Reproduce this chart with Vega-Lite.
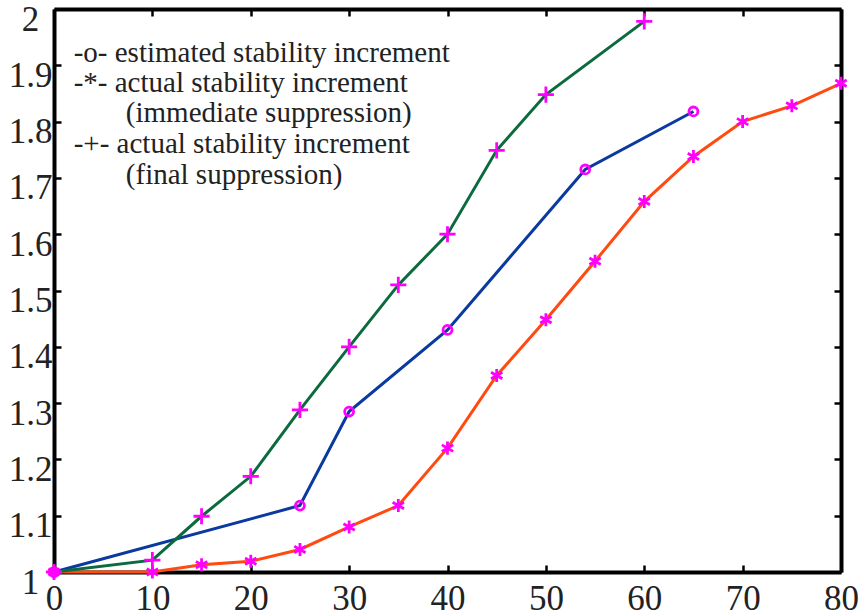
{
  "$schema": "https://vega.github.io/schema/vega-lite/v6.json",
  "width": 787,
  "height": 563,
  "autosize": {"type": "none"},
  "padding": {"left": 54, "top": 9, "right": 26, "bottom": 44},
  "background": "white",
  "config": {
    "view": {"stroke": null},
    "font": "Liberation Serif"
  },
  "datasets": {
    "series": [
      {"series": "est", "x": 0, "y": 1.0},
      {"series": "est", "x": 25, "y": 1.118},
      {"series": "est", "x": 30, "y": 1.285},
      {"series": "est", "x": 40, "y": 1.43},
      {"series": "est", "x": 54, "y": 1.715},
      {"series": "est", "x": 65, "y": 1.818},
      {"series": "imm", "x": 0, "y": 1.0},
      {"series": "imm", "x": 10, "y": 1.0},
      {"series": "imm", "x": 15, "y": 1.013},
      {"series": "imm", "x": 20, "y": 1.019},
      {"series": "imm", "x": 25, "y": 1.04},
      {"series": "imm", "x": 30, "y": 1.08},
      {"series": "imm", "x": 35, "y": 1.118},
      {"series": "imm", "x": 40, "y": 1.22},
      {"series": "imm", "x": 45, "y": 1.349},
      {"series": "imm", "x": 50, "y": 1.448},
      {"series": "imm", "x": 55, "y": 1.552},
      {"series": "imm", "x": 60, "y": 1.658},
      {"series": "imm", "x": 65, "y": 1.738},
      {"series": "imm", "x": 70, "y": 1.8},
      {"series": "imm", "x": 75, "y": 1.828},
      {"series": "imm", "x": 80, "y": 1.868},
      {"series": "fin", "x": 0, "y": 1.0},
      {"series": "fin", "x": 10, "y": 1.021},
      {"series": "fin", "x": 15, "y": 1.099},
      {"series": "fin", "x": 20, "y": 1.17},
      {"series": "fin", "x": 25, "y": 1.288},
      {"series": "fin", "x": 30, "y": 1.40},
      {"series": "fin", "x": 35, "y": 1.51},
      {"series": "fin", "x": 40, "y": 1.60},
      {"series": "fin", "x": 45, "y": 1.749},
      {"series": "fin", "x": 50, "y": 1.848},
      {"series": "fin", "x": 60, "y": 1.978}
    ],
    "legend": [
      {"x": 2.0, "y": 1.921, "t": "-o- estimated stability increment"},
      {"x": 2.0, "y": 1.868, "t": "-*- actual stability increment"},
      {"x": 7.3, "y": 1.816, "t": "(immediate suppression)"},
      {"x": 2.0, "y": 1.761, "t": "-+- actual stability increment"},
      {"x": 7.3, "y": 1.705, "t": "(final suppression)"}
    ]
  },
  "resolve": {"axis": {"x": "independent", "y": "independent"}},
  "layer": [
    {
      "data": {"name": "series"},
      "mark": {"type": "line", "strokeWidth": 3, "clip": false},
      "encoding": {
        "x": {
          "field": "x", "type": "quantitative",
          "scale": {"domain": [0, 80], "nice": false, "zero": false},
          "axis": {"orient": "bottom", "values": [0, 10, 20, 30, 40, 50, 60, 70, 80], "title": null, "labelPadding": 16, "labelFlush": false, "labelFont": "Liberation Serif", "labelFontSize": 35, "labelColor": "#222", "domainWidth": 4, "domainColor": "#000", "tickSize": -7, "tickWidth": 2.5, "tickColor": "#000", "grid": false}
        },
        "y": {
          "field": "y", "type": "quantitative",
          "scale": {"domain": [1, 2], "nice": false, "zero": false},
          "axis": {"orient": "left", "values": [1, 1.1, 1.2, 1.3, 1.4, 1.5, 1.6, 1.7, 1.8, 1.9, 2], "format": ".2~f", "title": null, "labelAlign": "center", "labelPadding": 31, "labelOffset": 10, "labelFlush": false, "labelFont": "Liberation Serif", "labelFontSize": 35, "labelColor": "#222", "domainWidth": 4, "domainColor": "#000", "tickSize": -7, "tickWidth": 2.5, "tickColor": "#000", "grid": false}
        },
        "color": {
          "field": "series", "type": "nominal",
          "scale": {"domain": ["est", "imm", "fin"], "range": ["#0a3aa0", "#ff4a10", "#0b6b3e"]},
          "legend": null
        }
      }
    },
    {
      "data": {"name": "series"},
      "mark": {"type": "point", "filled": false, "color": "#ff00ff", "strokeWidth": 2.8, "opacity": 1, "clip": false},
      "encoding": {
        "x": {
          "field": "x", "type": "quantitative",
          "axis": {"orient": "top", "values": [0, 10, 20, 30, 40, 50, 60, 70, 80], "labels": false, "title": null, "domainWidth": 4, "domainColor": "#000", "tickSize": -7, "tickWidth": 2.5, "tickColor": "#000", "grid": false}
        },
        "y": {
          "field": "y", "type": "quantitative",
          "axis": {"orient": "right", "values": [1, 1.1, 1.2, 1.3, 1.4, 1.5, 1.6, 1.7, 1.8, 1.9, 2], "labels": false, "title": null, "domainWidth": 4, "domainColor": "#000", "tickSize": -7, "tickWidth": 2.5, "tickColor": "#000", "grid": false}
        },
        "shape": {
          "field": "series", "type": "nominal",
          "scale": {"domain": ["est", "imm", "fin"], "range": ["circle", "M0,-1L0,1M-0.87,-0.5L0.87,0.5M-0.87,0.5L0.87,-0.5", "M-1,0L1,0M0,-1L0,1"]},
          "legend": null
        },
        "size": {
          "field": "series", "type": "nominal",
          "scale": {"domain": ["est", "imm", "fin"], "range": [80, 260, 190]},
          "legend": null
        }
      }
    },
    {
      "data": {"name": "legend"},
      "mark": {"type": "text", "align": "left", "baseline": "middle", "fontSize": 29, "font": "Liberation Serif", "color": "#222"},
      "encoding": {
        "x": {"field": "x", "type": "quantitative", "axis": null},
        "y": {"field": "y", "type": "quantitative", "axis": null},
        "text": {"field": "t"}
      }
    }
  ]
}
